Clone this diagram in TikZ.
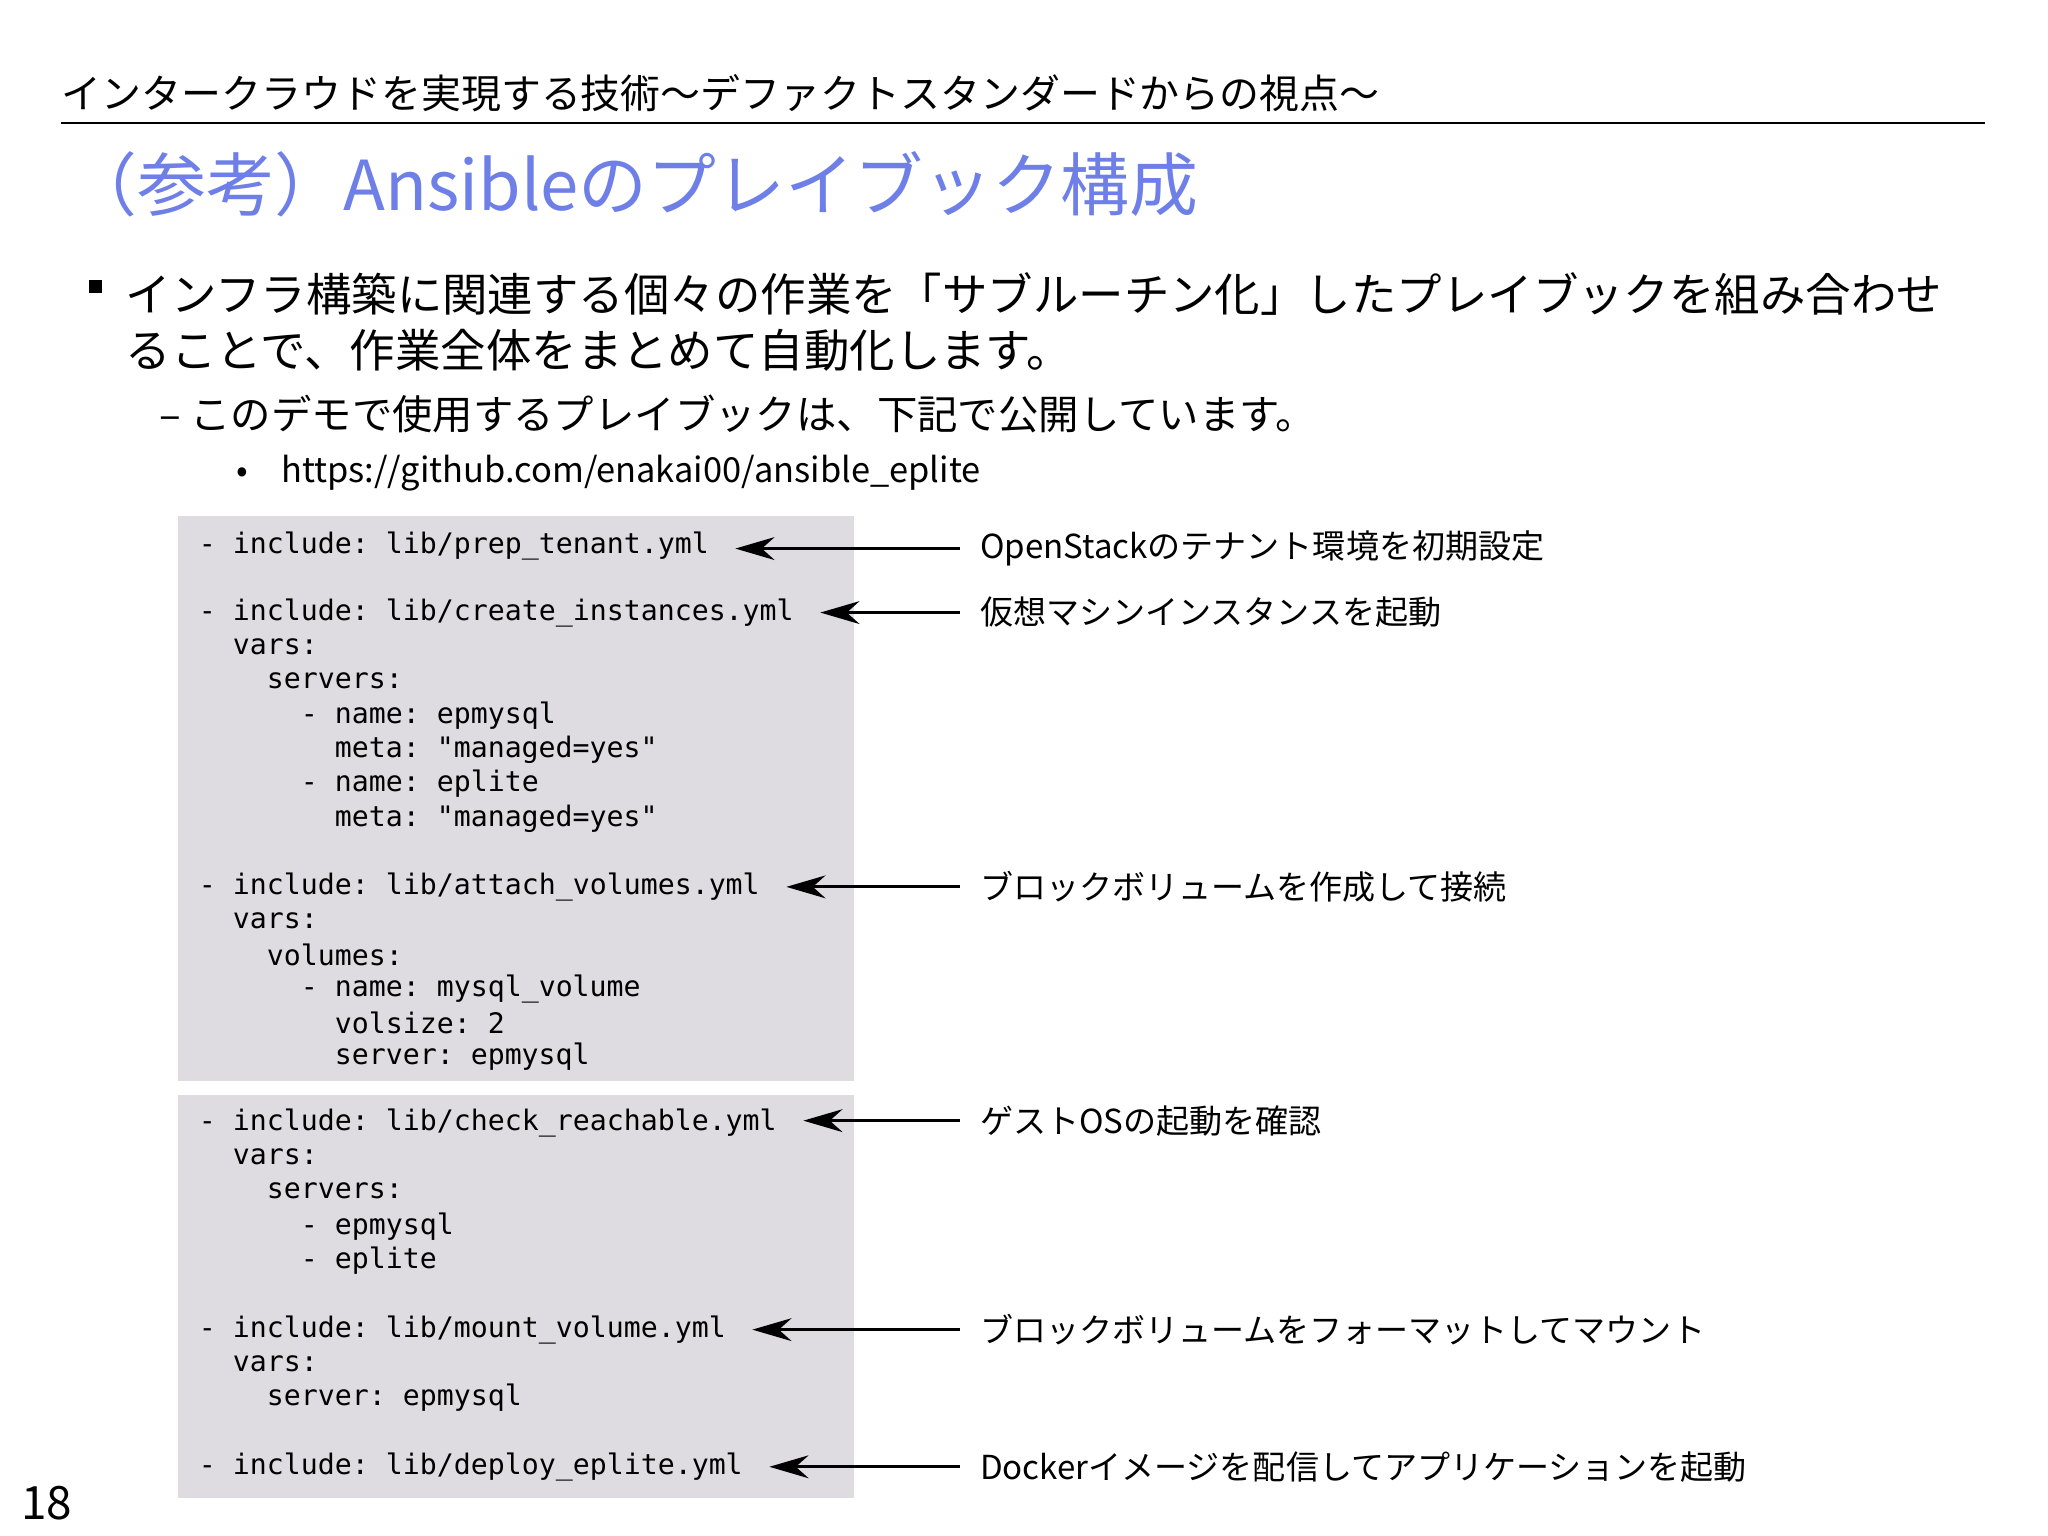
\documentclass[tikz,border=0pt]{standalone}
\usepackage{fontspec}
\setmainfont{Noto Sans CJK JP}
\setmonofont{DejaVu Sans Mono}
\usetikzlibrary{arrows.meta}
\definecolor{titleblue}{HTML}{6F7FE8}
\definecolor{codebg}{HTML}{DEDCE1}
\tikzset{
 cl/.style={anchor=west,inner sep=0pt,font=\ttfamily\fontsize{12.3}{14}\selectfont},
 cla/.style={anchor=west,inner xsep=0.2cm,inner ysep=0pt,font=\ttfamily\fontsize{12.3}{14}\selectfont},
 lab/.style={anchor=west,inner xsep=0.3cm,inner ysep=0pt,font=\fontsize{14.4}{16}\selectfont},
 arr/.style={-{Stealth[length=0.6cm,width=0.35cm]},line width=1.2pt,shorten >=0.2cm}
}
\begin{document}
\begin{tikzpicture}[x=0.02cm,y=-0.02cm]
\useasboundingbox (0,0) rectangle (1568,1176);
\fill[white] (0,0) rectangle (1568,1176);
\node[anchor=west,inner sep=0pt,font=\fontsize{17.4}{20}\selectfont] (hdr) at (47,71) {インタークラウドを実現する技術～デファクトスタンダードからの視点～};
\draw[line width=0.8pt] (47,94) -- (1520,94);
\node[anchor=west,inner sep=0pt,text=titleblue,font=\fontsize{30}{33}\selectfont] (title) at (52,141) {（参考）Ansibleのプレイブック構成};
\fill (68,214) rectangle (78,224);
\node[anchor=north west,inner sep=0pt,align=left,font=\fontsize{19.8}{24.4}\selectfont] (b1) at (96,208) {インフラ構築に関連する個々の作業を「サブルーチン化」したプレイブックを組み合わせ\\ることで、作業全体をまとめて自動化します。};
\node[anchor=west,inner sep=0pt,font=\fontsize{17.6}{20}\selectfont] (b2) at (122,317) {– このデモで使用するプレイブックは、下記で公開しています。};
\node[anchor=west,inner sep=0pt,font=\fontsize{15}{20}\selectfont] (b3) at (181,362) {•\hspace{0.5cm}https://github.com/enakai00/ansible\_eplite};
\fill[codebg] (136,395) rectangle (654,828);
\fill[codebg] (136,838) rectangle (654,1147);
% box 1
\node[cla] (c1) at (142,418) {- include: lib/prep\_tenant.yml};
\node[cla] (c2) at (142,469) {- include: lib/create\_instances.yml};
\node[cl] (c3) at (178,495) {vars:};
\node[cl] (c4) at (204,521) {servers:};
\node[cl] (c5) at (230,548) {- name: epmysql};
\node[cl] (c6) at (256,574) {meta: "managed=yes"};
\node[cl] (c7) at (230,600) {- name: eplite};
\node[cl] (c8) at (256,627) {meta: "managed=yes"};
\node[cla] (c9) at (142,679) {- include: lib/attach\_volumes.yml};
\node[cl] (c10) at (178,705) {vars:};
\node[cl] (c11) at (204,731) {volumes:};
\node[cl] (c12) at (230,757) {- name: mysql\_volume};
\node[cl] (c13) at (256,783) {volsize: 2};
\node[cl] (c14) at (256,809) {server: epmysql};
% box 2
\node[cla] (d1) at (142,860) {- include: lib/check\_reachable.yml};
\node[cl] (d2) at (178,886) {vars:};
\node[cl] (d3) at (204,912) {servers:};
\node[cl] (d4) at (230,939) {- epmysql};
\node[cl] (d5) at (230,965) {- eplite};
\node[cla] (d6) at (142,1018) {- include: lib/mount\_volume.yml};
\node[cl] (d7) at (178,1044) {vars:};
\node[cl] (d8) at (204,1070) {server: epmysql};
\node[cla] (d9) at (142,1123) {- include: lib/deploy\_eplite.yml};
% labels
\node[lab] (l1) at (735,420) {OpenStackのテナント環境を初期設定};
\node[lab] (l2) at (735,469) {仮想マシンインスタンスを起動};
\node[lab] (l3) at (735,679) {ブロックボリュームを作成して接続};
\node[lab] (l4) at (735,858) {ゲストOSの起動を確認};
\node[lab] (l5) at (735,1018) {ブロックボリュームをフォーマットしてマウント};
\node[lab] (l6) at (735,1123) {Dockerイメージを配信してアプリケーションを起動};
\draw[arr] (l1.west) -- (c1.east |- l1.west);
\draw[arr] (l2.west) -- (c2.east);
\draw[arr] (l3.west) -- (c9.east);
\draw[arr] (l4.west) -- (d1.east |- l4.west);
\draw[arr] (l5.west) -- (d6.east);
\draw[arr] (l6.west) -- (d9.east);
\node[anchor=west,inner sep=0pt,font=\fontsize{20}{24}\selectfont] (pg) at (16,1151) {18};
\end{tikzpicture}
\end{document}
